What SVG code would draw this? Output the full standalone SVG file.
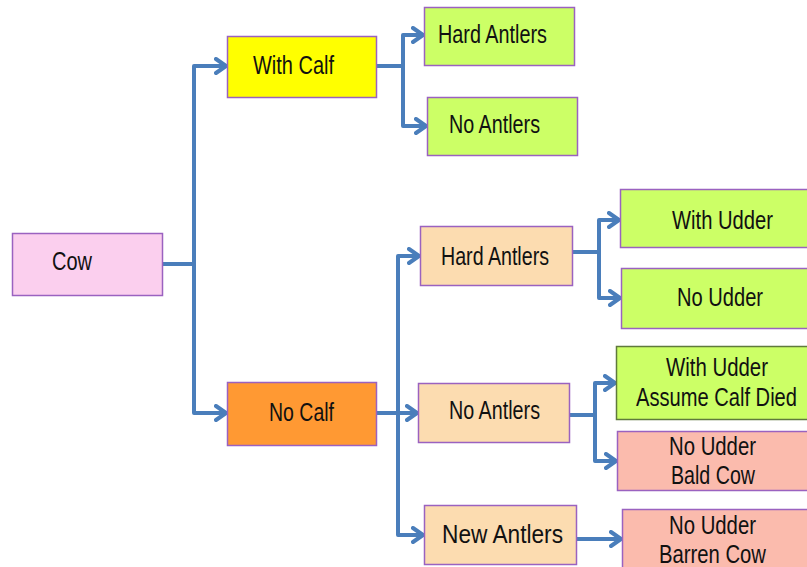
<svg xmlns="http://www.w3.org/2000/svg" width="807" height="567" viewBox="0 0 807 567">
<style>
.box{stroke:#9a62c0;stroke-width:1.5}
.t{font-family:"Liberation Sans",Arial,sans-serif;font-size:25px;fill:#111}
.c{fill:none;stroke:#4a7ebb;stroke-width:4;stroke-linejoin:round}
</style>
<defs>
<marker id="ah" markerUnits="userSpaceOnUse" viewBox="0 0 14 18" refX="12" refY="9" markerWidth="14" markerHeight="18" orient="auto">
<path d="M2,2 L12,9 L2,16" fill="none" stroke="#4a7ebb" stroke-width="4" stroke-linecap="round" stroke-linejoin="round"/>
</marker>
</defs>
<rect width="807" height="567" fill="#fff"/>
<g id="connectors">
<path class="c" d="M162,264 H194"/>
<path class="c" d="M194,264 V66 H226" marker-end="url(#ah)"/>
<path class="c" d="M194,264 V413 H226" marker-end="url(#ah)"/>
<path class="c" d="M376,66 H403"/>
<path class="c" d="M403,66 V35 H423" marker-end="url(#ah)"/>
<path class="c" d="M403,66 V126 H426" marker-end="url(#ah)"/>
<path class="c" d="M376,413 H398"/>
<path class="c" d="M398,413 V256 H419" marker-end="url(#ah)"/>
<path class="c" d="M398,413 H417" marker-end="url(#ah)"/>
<path class="c" d="M398,413 V535 H423" marker-end="url(#ah)"/>
<path class="c" d="M572,252 H599"/>
<path class="c" d="M599,252 V220 H619" marker-end="url(#ah)"/>
<path class="c" d="M599,252 V298 H620" marker-end="url(#ah)"/>
<path class="c" d="M569,415 H595"/>
<path class="c" d="M595,415 V383 H615" marker-end="url(#ah)"/>
<path class="c" d="M595,415 V461 H616" marker-end="url(#ah)"/>
<path class="c" d="M577,539 H621" marker-end="url(#ah)"/>
</g>
<g id="cow"><rect class="box" x="12.5" y="233.5" width="150" height="62" fill="#fbcfee"/><text class="t" x="52" y="270" textLength="40" lengthAdjust="spacingAndGlyphs">Cow</text></g>
<g id="with-calf"><rect class="box" x="227.5" y="36.5" width="149" height="61" fill="#ffff00"/><text class="t" x="253" y="74" textLength="81" lengthAdjust="spacingAndGlyphs">With Calf</text></g>
<g id="no-calf"><rect class="box" x="227.5" y="382.5" width="149" height="63" fill="#ff9933"/><text class="t" x="269" y="421" textLength="65" lengthAdjust="spacingAndGlyphs">No Calf</text></g>
<g id="wc-hard-antlers"><rect class="box" x="424.5" y="7.5" width="150" height="58" fill="#ccff66"/><text class="t" x="438" y="43" textLength="109" lengthAdjust="spacingAndGlyphs">Hard Antlers</text></g>
<g id="wc-no-antlers"><rect class="box" x="427.5" y="97.5" width="150" height="58" fill="#ccff66"/><text class="t" x="449" y="133" textLength="91" lengthAdjust="spacingAndGlyphs">No Antlers</text></g>
<g id="nc-hard-antlers"><rect class="box" x="420.5" y="226.5" width="152" height="59" fill="#fcdcb0"/><text class="t" x="441" y="265" textLength="108" lengthAdjust="spacingAndGlyphs">Hard Antlers</text></g>
<g id="ha-with-udder"><rect class="box" x="620.5" y="189.5" width="190" height="58" fill="#ccff66"/><text class="t" x="672" y="229" textLength="101" lengthAdjust="spacingAndGlyphs">With Udder</text></g>
<g id="ha-no-udder"><rect class="box" x="621.5" y="268.5" width="190" height="60" fill="#ccff66"/><text class="t" x="677" y="306" textLength="86" lengthAdjust="spacingAndGlyphs">No Udder</text></g>
<g id="nc-no-antlers"><rect class="box" x="418.5" y="383.5" width="151" height="59" fill="#fcdcb0"/><text class="t" x="449" y="419" textLength="91" lengthAdjust="spacingAndGlyphs">No Antlers</text></g>
<g id="na-with-udder"><rect x="616.5" y="346.5" width="195" height="73" fill="#ccff66" stroke="#5f7a3c" stroke-width="1.5"/><text class="t" x="666" y="376" textLength="102" lengthAdjust="spacingAndGlyphs">With Udder</text><text class="t" x="636" y="406" textLength="161" lengthAdjust="spacingAndGlyphs">Assume Calf Died</text></g>
<g id="na-bald-cow"><rect class="box" x="617.5" y="431.5" width="194" height="59" fill="#fbbbad"/><text class="t" x="669" y="455" textLength="87" lengthAdjust="spacingAndGlyphs">No Udder</text><text class="t" x="671" y="484" textLength="84" lengthAdjust="spacingAndGlyphs">Bald Cow</text></g>
<g id="nc-new-antlers"><rect class="box" x="424.5" y="505.5" width="152" height="59" fill="#fcdcb0"/><text class="t" x="442" y="543" font-size="28" textLength="121" lengthAdjust="spacingAndGlyphs">New Antlers</text></g>
<g id="nw-barren-cow"><rect class="box" x="622.5" y="509.5" width="190" height="62" fill="#fbbbad"/><text class="t" x="669" y="534" textLength="87" lengthAdjust="spacingAndGlyphs">No Udder</text><text class="t" x="659" y="563" textLength="107" lengthAdjust="spacingAndGlyphs">Barren Cow</text></g>
</svg>
